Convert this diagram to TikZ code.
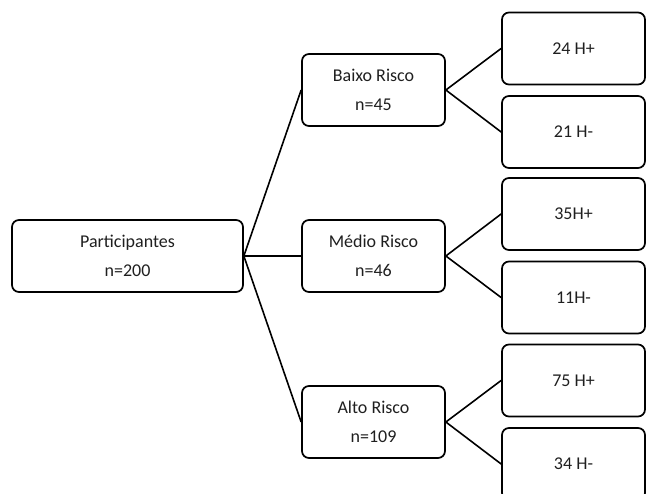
\documentclass[tikz,border=0pt]{standalone}
\usepackage{fontspec}
\setmainfont{Carlito}
\usepackage{tikz}

\begin{document}
\begin{tikzpicture}[x=1pt,y=-1pt,
  box/.style={draw=black, line width=1.7pt, rounded corners=7pt, align=center,
    minimum width=143pt, minimum height=72pt, inner sep=0pt,
    font=\fontsize{18}{29}\selectfont, text=black!88},
  link/.style={line width=1.6pt}]
\useasboundingbox (0,0) rectangle (646,494);

\node[box, minimum width=231pt] (part) at (127.5,256) {Participantes\\n=200};

\node[box] (baixo) at (373.5,90) {Baixo Risco\\n=45};
\node[box] (medio) at (373.5,256) {Médio Risco\\n=46};
\node[box] (alto) at (373.5,422) {Alto Risco\\n=109};

\node[box] (bpos) at (573.5,48.5) {24 H+};
\node[box] (bneg) at (573.5,132) {21 H-};
\node[box] (mpos) at (573.5,214) {35H+};
\node[box] (mneg) at (573.5,297.5) {11H-};
\node[box] (apos) at (573.5,380.5) {75 H+};
\node[box] (aneg) at (573.5,464) {34 H-};

\draw[link] (part.east) -- (baixo.west);
\draw[link] (part.east) -- (medio.west);
\draw[link] (part.east) -- (alto.west);

\draw[link] (baixo.east) -- (bpos.west);
\draw[link] (baixo.east) -- (bneg.west);
\draw[link] (medio.east) -- (mpos.west);
\draw[link] (medio.east) -- (mneg.west);
\draw[link] (alto.east) -- (apos.west);
\draw[link] (alto.east) -- (aneg.west);
\end{tikzpicture}
\end{document}
